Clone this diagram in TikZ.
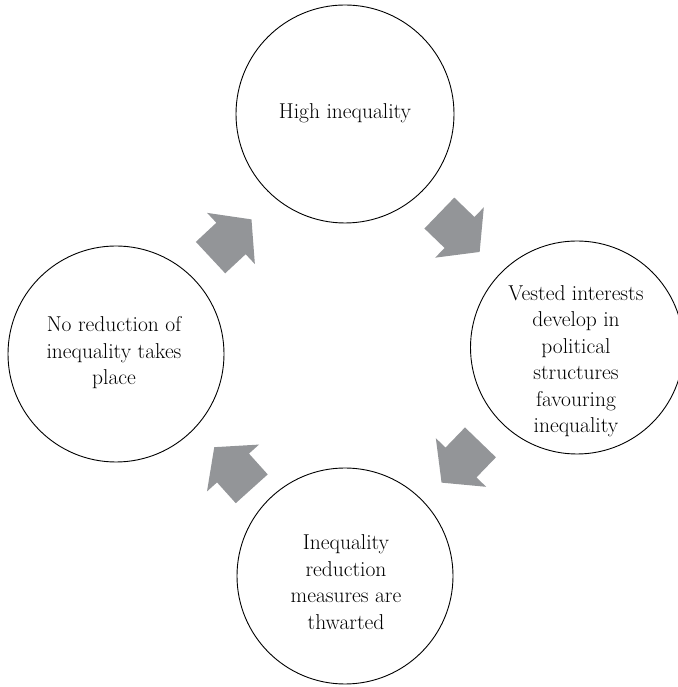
\documentclass[tikz,border=0pt]{standalone}
\begin{document}
\begin{tikzpicture}[x=1pt,y=1pt,
  stage/.style={circle,draw=black,line width=0.9pt,minimum size=#1,inner sep=0pt},
  stagetext/.style={align=center,font=\fontsize{21.5}{26.5}\selectfont,inner sep=0pt},
  flow/.style={fill=flowgrey,draw=none}]
\definecolor{flowgrey}{RGB}{147,149,152}
\useasboundingbox (0,0) rectangle (677,687);

% block arrow, pointing along +x, centred on the origin
\def\blockarrow{(-28,-21.5) -- (0,-21.5) -- (0,-35) -- (28,0) -- (0,35) -- (0,21.5) -- (-28,21.5) -- cycle}

% the four stages of the cycle
\node[stage=218pt] (high) at (345,573) {};
\node[stage=213pt] (vested) at (577,339.5) {};
\node[stage=216pt] (thwart) at (345,111) {};
\node[stage=216pt] (noreduce) at (116,333) {};

\node[stagetext] (highT) at (345,574) {High inequality};
\node[stagetext] (vestedT) at (576,326) {Vested interests\\develop in\\political\\structures\\favouring\\inequality};
\node[stagetext] (thwartT) at (346,105) {Inequality\\reduction\\measures are\\thwarted};
\node[stagetext] (noreduceT) at (114,334) {No reduction of\\inequality takes\\place};

% arrows between the stages
\fill[flow,shift={(231,448.5)},rotate=43] \blockarrow;
\fill[flow,shift={(459.5,454.5)},rotate=-44] \blockarrow;
\fill[flow,shift={(461,224.5)},rotate=-134] \blockarrow;
\fill[flow,shift={(233,219)},rotate=132] \blockarrow;
\end{tikzpicture}
\end{document}
